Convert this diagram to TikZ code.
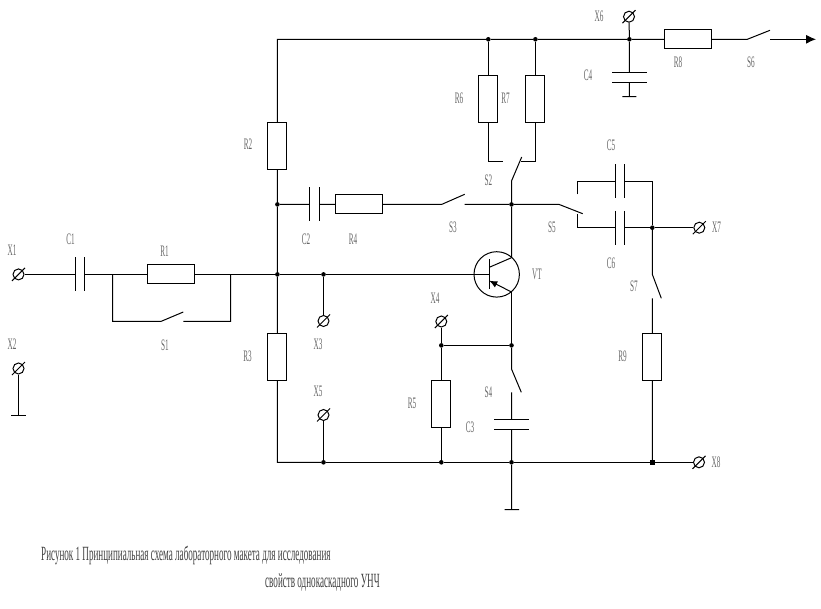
\documentclass[tikz,border=0pt]{standalone}
\usepackage{fontspec}
\setmainfont[FakeStretch=0.45]{Liberation Serif}
\usetikzlibrary{arrows.meta}
\tikzset{
  wire/.style={line width=1pt},
  resh/.style={draw,line width=1pt,rectangle,inner sep=0,minimum width=47.4pt,minimum height=19pt},
  resv/.style={draw,line width=1pt,rectangle,inner sep=0,minimum width=19pt,minimum height=47pt},
  caph/.style={rectangle,inner sep=0,minimum width=9.4pt,minimum height=33.4pt},
  capv/.style={rectangle,inner sep=0,minimum width=34pt,minimum height=9.4pt},
  term/.style={draw,line width=1pt,circle,inner sep=0,minimum size=11pt},
  junc/.style={fill,circle,inner sep=0,minimum size=4.6pt},
  lab/.style={text=black!60,font=\fontsize{16}{16}\selectfont,inner sep=0},
  cap text/.style={text=black!75,font=\fontsize{20.2}{20.2}\selectfont,inner sep=0,anchor=west}
}
\begin{document}
\begin{tikzpicture}[x=1pt,y=-1pt]
\useasboundingbox (0,0) rectangle (821,609);
% terminals
\foreach \n/\px/\py in {x1/18.5/274.4,x2/18.5/368.5,x3/323.5/321,x4/441.3/321.5,x5/323.5/415,x6/629/16.7,x7/699.3/227.7,x8/699/462.3} {
  \node[term] (\n) at (\px,\py) {};
  \draw[wire] ([shift={(-6.5,6.5)}]\n.center) -- ([shift={(6.5,-6.5)}]\n.center);
}
% junctions
\foreach \n/\px/\py in {ja/277.4/274.4,jb/277.4/204.4,jc/323.5/274.4,jd/323.5/462.3,je/441.3/462.3,jf/511.5/462.3,jh/441.3/345.4,ji/511.5/345.4,jj/511.5/204.4,jk/652.3/227.7,jl/488.3/39.3,jm/535.4/39.3,jn/629.4/39.3}
  \node[junc] (\n) at (\px,\py) {};
\node[junc,rectangle] (jg) at (652.3,462.3) {};
% resistors
\node[resh] (r1) at (170.7,274.4) {};
\node[resh] (r4) at (359,204.4) {};
\node[resh] (r8) at (688,39.3) {};
\node[resv] (r2) at (277.4,145.8) {};
\node[resv] (r3) at (277.4,356.8) {};
\node[resv] (r5) at (441.3,403.8) {};
\node[resv] (r6) at (488.3,98.8) {};
\node[resv] (r7) at (535.4,98.8) {};
\node[resv] (r9) at (652.3,356.8) {};
% capacitors
\foreach \n/\px/\py in {c1/80/274.4,c2/314.5/204.4,c5/620/181.3,c6/620/227.7} {
  \node[caph] (\n) at (\px,\py) {};
  \draw[wire] (\n.north west) -- (\n.south west) (\n.north east) -- (\n.south east);
}
\foreach \n/\px/\py in {c3/511.5/424.8,c4/629.4/77.2} {
  \node[capv] (\n) at (\px,\py) {};
  \draw[wire] (\n.north west) -- (\n.north east) (\n.south west) -- (\n.south east);
}
% transistor
\node[draw,line width=1pt,circle,inner sep=0,minimum size=45.4pt] (vt) at (496.7,274.4) {};
\coordinate (vtb) at (489.3,274.4);
\coordinate (vtt) at (489.3,259.3);
\coordinate (vtd) at (489.3,289.3);
\coordinate (vtc) at (511.5,257.7);
\coordinate (vtci) at (489.3,267.3);
\coordinate (vte) at (511.5,292);
\coordinate (vtei) at (489.3,280.7);
\draw[wire] (vtt) -- (vtd);
\draw[wire] (vtc) -- (vtci);
\draw[wire,-{Latex[length=8pt,width=7pt]}] (vte) -- (vtei);
% free ends, switches and grounds
\coordinate (tl) at (277.4,39.3);
\coordinate (r1l) at (112.5,274.4);
\coordinate (r1r) at (230.5,274.4);
\coordinate (s1l) at (161,321.4);
\coordinate (s1t) at (183.3,312);
\coordinate (s1r) at (183.3,321.4);
\coordinate (s1a) at (112.5,321.4);
\coordinate (s1b) at (230.5,321.4);
\coordinate (x2g) at (18.5,415);
\coordinate (x2ga) at (11,415);
\coordinate (x2gb) at (26,415);
\coordinate (s2l) at (488.3,161.3);
\coordinate (s2a) at (502.7,161.3);
\coordinate (s2r) at (535.4,161.3);
\coordinate (s2b) at (521,161.3);
\coordinate (s2t) at (521.7,157);
\coordinate (s2d) at (511.5,181);
\coordinate (s3l) at (441.7,204.4);
\coordinate (s3t) at (464.7,194.3);
\coordinate (s3r) at (464.7,204.4);
\coordinate (s4a) at (511.5,369);
\coordinate (s4t) at (521.3,392.3);
\coordinate (s4b) at (511.5,392.3);
\coordinate (s5a) at (559,204.4);
\coordinate (s5t) at (582.7,213.7);
\coordinate (c5l) at (577.3,181.3);
\coordinate (c5d) at (577.3,194.3);
\coordinate (c5r) at (652.3,181.3);
\coordinate (c6l) at (577.3,227.7);
\coordinate (c6u) at (577.3,214);
\coordinate (s6a) at (747.3,39.3);
\coordinate (s6t) at (770,30.3);
\coordinate (s6b) at (770,39.3);
\coordinate (out) at (816,39.3);
\coordinate (s7a) at (652.3,274.3);
\coordinate (s7t) at (661.3,298.3);
\coordinate (s7b) at (652.3,298.3);
\coordinate (g1) at (511.5,509.7);
\coordinate (g1a) at (504.7,509.7);
\coordinate (g1b) at (519,509.7);
\coordinate (g2) at (629.4,96.7);
\coordinate (g2a) at (622.3,96.7);
\coordinate (g2b) at (636.3,96.7);
\coordinate (bl) at (277.4,462.3);
% wires
\draw[wire] (x1) -- (c1) -- (r1l) -- (r1) -- (r1r) -- (ja) -- (jc) -- (vtb);
\draw[wire] (r1l) -- (s1a) -- (s1l) -- (s1t) (s1r) -- (s1b) -- (r1r);
\draw[wire] (x2) -- (x2g) (x2ga) -- (x2gb);
\draw[wire] (jd) -- (bl) -- (r3) -- (ja) -- (jb) -- (r2) -- (tl) -- (jl) -- (jm) -- (jn) -- (r8) -- (s6a) -- (s6t);
\draw[wire,-{Latex[length=10pt,width=9pt]}] (s6b) -- (out);
\draw[wire] (jb) -- (c2) -- (r4) -- (s3l) -- (s3t) (s3r) -- (jj) -- (s5a) -- (s5t);
\draw[wire] (jl) -- (r6) -- (s2l) -- (s2a);
\draw[wire] (jm) -- (r7) -- (s2r) -- (s2b);
\draw[wire] (s2t) -- (s2d) -- (jj) -- (vtc);
\draw[wire] (vte) -- (ji) -- (jh) -- (x4);
\draw[wire] (jh) -- (r5) -- (je);
\draw[wire] (ji) -- (s4a) -- (s4t) (s4b) -- (c3) -- (jf) -- (g1) (g1a) -- (g1b);
\draw[wire] (jc) -- (x3) (x5) -- (jd) -- (je) -- (jf) -- (jg) -- (x8);
\draw[wire] (c5d) -- (c5l) -- (c5) -- (c5r) -- (jk) (c6u) -- (c6l) -- (c6) -- (jk) -- (x7);
\draw[wire] (jk) -- (s7a) -- (s7t) (s7b) -- (r9) -- (jg);
\draw[wire] (x6) -- (jn) -- (c4) -- (g2) (g2a) -- (g2b);
% labels
\foreach \t/\px/\py in {X1/12/250,C1/70.5/239,R1/164.5/251,X2/12/344,S1/165/345,R3/247.5/356,R2/248/144,
  X3/318/344,X5/318/391,X4/435/298,R5/412/403,C3/470/427,S4/488.5/392,VT/537/274,S7/634/286,R9/622.5/356,X8/716/462,X7/716.5/227,C6/611/263,C5/611/145,S5/552/227,S3/453/227,S2/488.5/180,C2/306/239,R4/353/239,R6/459/98,R7/505.5/98,X6/599/16,C4/588/75,R8/678/62,S6/751/62}
  \node[lab] (l\t) at (\px,\py) {\t};
\node[cap text] (capa) at (41,555) {Рисунок 1 Принципиальная схема лабораторного макета для исследования};
\node[cap text] (capb) at (265,583) {свойств однокаскадного УНЧ};
\end{tikzpicture}
\end{document}
